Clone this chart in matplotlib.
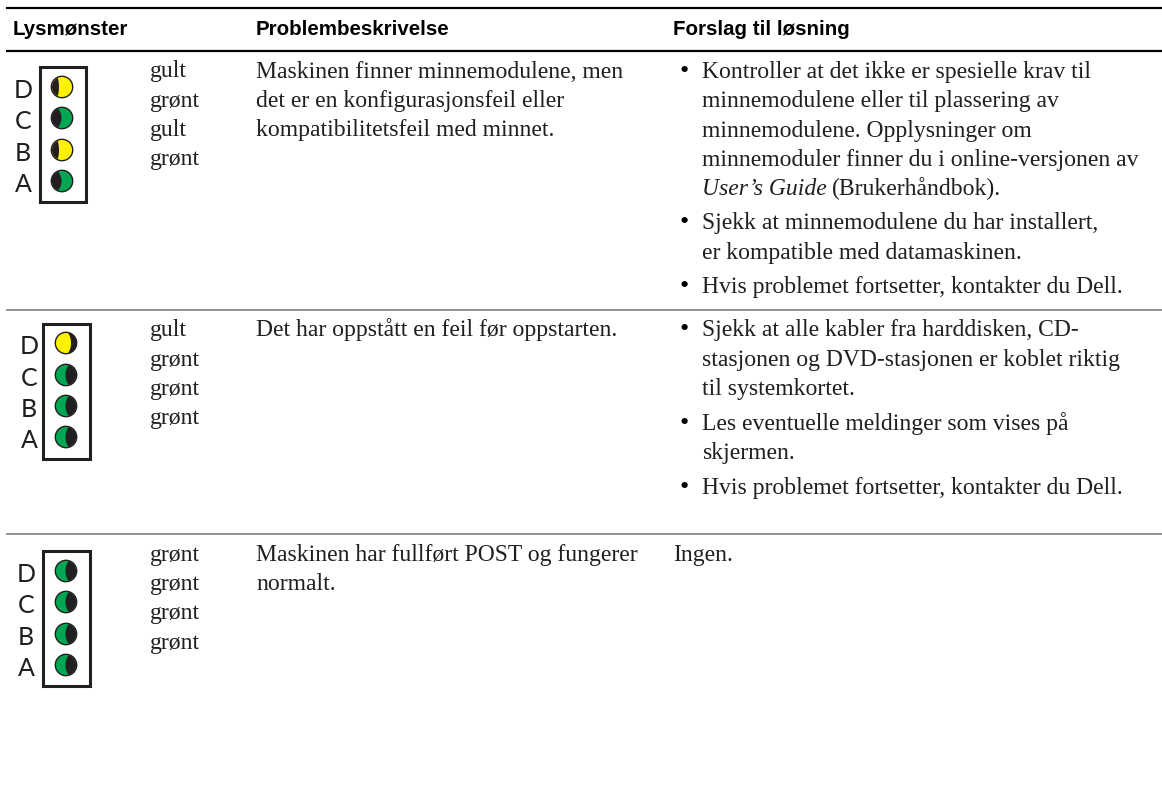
import matplotlib
matplotlib.use('Agg')
import matplotlib.pyplot as plt
from matplotlib.patches import Circle, Ellipse, Rectangle

plt.rcParams['text.hinting'] = 'no_autohint'

# Table content
headers = ['Lysmønster', 'Problembeskrivelse', 'Forslag til løsning']
letters = ['D', 'C', 'B', 'A']
rowLights = [
    ['gult', 'grønt', 'gult', 'grønt'],
    ['gult', 'grønt', 'grønt', 'grønt'],
    ['grønt', 'grønt', 'grønt', 'grønt'],
]
problemLines = [
    'Maskinen finner minnemodulene, men', 'det er en konfigurasjonsfeil eller',
    'kompatibilitetsfeil med minnet.', 'Det har oppstått en feil før oppstarten.',
    'Maskinen har fullført POST og fungerer', 'normalt.',
]
solutionLines = [
    'Kontroller at det ikke er spesielle krav til', 'minnemodulene eller til plassering av',
    'minnemodulene. Opplysninger om', 'minnemoduler finner du i online-versjonen av',
    'Sjekk at minnemodulene du har installert,', 'er kompatible med datamaskinen.',
    'Hvis problemet fortsetter, kontakter du Dell.',
    'Sjekk at alle kabler fra harddisken, CD-', 'stasjonen og DVD-stasjonen er koblet riktig',
    'til systemkortet.', 'Les eventuelle meldinger som vises på', 'skjermen.',
    'Hvis problemet fortsetter, kontakter du Dell.',
]
guideItalic = 'User’s Guide'
guideRoman = '(Brukerhåndbok).'
noSolution = 'Ingen.'

# Layout in pixels
problemY = [78, 107, 136, 336, 561, 590]
solutionY = [78, 107, 137, 166, 229, 259, 293, 336, 366, 395, 430, 459, 494]
bulletY = [78, 229, 293, 336, 430, 494]
lightTextY = [[77, 107, 136, 165], [336, 366, 395, 424], [561, 590, 619, 649]]
boxX = [39.5, 43, 43]
boxY = [66.5, 323.5, 550.5]
lightX = [62, 66, 66]
lightY = [[87, 118, 150, 181], [343, 375, 406, 437], [571, 602, 634, 665]]
letterX = [23, 29, 26]
inkColor = '#231f20'
yellow = '#fff200'
green = '#00a651'
serif = 'Liberation Serif'
bodySize = 17

fig = plt.figure(figsize=(11.62, 7.86), dpi=100)
ax = fig.add_axes([0, 0, 1, 1])
ax.set_xlim(0, 1162)
ax.set_ylim(786, 0)
ax.axis('off')


def bodyText(x, y, text, **kwargs):
    ax.text(x, y, text, family=serif, fontsize=bodySize, va='baseline', ha='left', color=inkColor, **kwargs)


def drawLight(cx, cy, color, row):
    # Half-moon LED: dark disc, coloured disc, dark lobe clipped to the disc
    ax.add_patch(Circle((cx, cy), 11.4, fc=inkColor, ec='none'))
    if row > 0 and color == 'gult':
        # this one bulges the other way, so the colour is the ellipse
        inner = Circle((cx, cy), 10, fc=inkColor, ec='none')
        lobe = Ellipse((cx - 6, cy), 22, 30, fc=yellow, ec='none')
    else:
        fill = yellow if color == 'gult' else green
        inner = Circle((cx, cy), 10, fc=fill, ec='none')
        if row > 0:
            lobe = Ellipse((cx + 12, cy), 25, 30, fc=inkColor, ec='none')
        elif color == 'gult':
            lobe = Ellipse((cx - 14, cy), 22, 40, fc=inkColor, ec='none')
        else:
            lobe = Ellipse((cx - 12, cy), 23, 26, fc=inkColor, ec='none')
    ax.add_patch(inner)
    ax.add_patch(lobe)
    lobe.set_clip_path(inner)


# Rules
ax.plot([6, 1162], [8, 8], color='black', lw=1.6, solid_capstyle='butt')
ax.plot([6, 1162], [51, 51], color='black', lw=1.6, solid_capstyle='butt')
ax.plot([6, 1162], [310, 310], color='#808080', lw=1.2, solid_capstyle='butt')
ax.plot([6, 1162], [534, 534], color='#808080', lw=1.2, solid_capstyle='butt')

# Header
for x, label in zip([13, 256, 673], headers):
    ax.text(x, 35, label, family='Liberation Sans', weight='bold', fontsize=14.8, va='baseline', ha='left', color='black')

# Light boxes, letters and colour names
for r in range(3):
    ax.add_patch(Rectangle((boxX[r], boxY[r]), 46.5, 135, fc='white', ec=inkColor, lw=2.2))
    for i, letter in enumerate(letters):
        ax.text(letterX[r], lightY[r][i] + 11, letter, family='Lato', weight='normal', fontsize=18, va='baseline', ha='center', color=inkColor)
        drawLight(lightX[r], lightY[r][i], rowLights[r][i], r)
        bodyText(150, lightTextY[r][i], rowLights[r][i])

# Problem column
for y, line in zip(problemY, problemLines):
    bodyText(256, y, line)

# Solution column
for y, line in zip(solutionY, solutionLines):
    bodyText(702, y, line)
for y in bulletY:
    ax.text(684, y, '•', family=serif, fontsize=19, va='baseline', ha='center', color='black')
bodyText(702, 195, guideItalic, style='italic')
bodyText(832, 195, guideRoman)
bodyText(673, 561, noSolution)

fig.savefig('out.png', dpi=100)
